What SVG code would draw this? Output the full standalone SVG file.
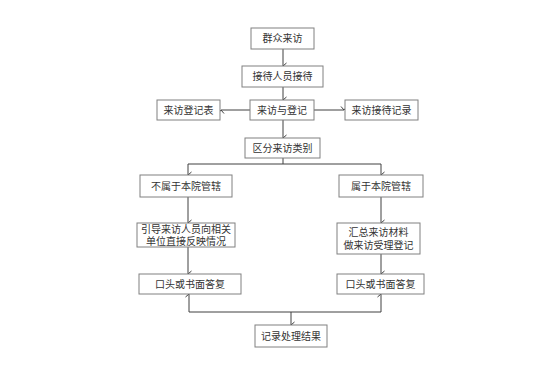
<svg xmlns="http://www.w3.org/2000/svg" width="552" height="376" viewBox="0 0 552 376">
<style>
.box{fill:#fff;stroke:#808080;stroke-width:1}
.t{font-family:"Noto Sans CJK SC","Noto Sans",sans-serif;font-size:10px;fill:#333;text-anchor:middle}
.ln{fill:none;stroke:#404040;stroke-width:1}
</style>
<defs>
<marker id="a" markerWidth="8" markerHeight="8" refX="4" refY="6" orient="auto-start-reverse" markerUnits="userSpaceOnUse" viewBox="0 0 8 8">
<path d="M1,2.5 L4,6 L7,2.5" fill="none" stroke="#404040" stroke-width="1"/>
</marker>
</defs>
<rect width="552" height="376" fill="#fff"/>
<g id="connectors">
<line class="ln" x1="283" y1="49" x2="283" y2="66" marker-end="url(#a)"/>
<line class="ln" x1="283" y1="87" x2="283" y2="100" marker-end="url(#a)"/>
<line class="ln" x1="250" y1="110" x2="221" y2="110" marker-end="url(#a)"/>
<line class="ln" x1="314" y1="110" x2="344" y2="110" marker-end="url(#a)"/>
<line class="ln" x1="283" y1="120" x2="283" y2="138" marker-end="url(#a)"/>
<line class="ln" x1="283" y1="158" x2="283" y2="164"/>
<polyline class="ln" points="188,175 188,164 381,164 381,175" marker-start="url(#a)" marker-end="url(#a)"/>
<line class="ln" x1="188" y1="197" x2="188" y2="223" marker-end="url(#a)"/>
<line class="ln" x1="381" y1="197" x2="381" y2="223" marker-end="url(#a)"/>
<line class="ln" x1="188" y1="247" x2="188" y2="274" marker-end="url(#a)"/>
<line class="ln" x1="381" y1="254" x2="381" y2="274" marker-end="url(#a)"/>
<polyline class="ln" points="189,294 189,312 381,312 381,294" marker-start="url(#a)" marker-end="url(#a)"/>
<line class="ln" x1="291" y1="312" x2="291" y2="325" marker-end="url(#a)"/>
</g>
<g id="n1"><rect class="box" x="251" y="28" width="63" height="21"/><text class="t" x="282.5" y="42">群众来访</text></g>
<g id="n2"><rect class="box" x="242" y="66" width="81" height="21"/><text class="t" x="282.5" y="80">接待人员接待</text></g>
<g id="n3"><rect class="box" x="250" y="100" width="64" height="20"/><text class="t" x="282" y="114">来访与登记</text></g>
<g id="n4"><rect class="box" x="157" y="100" width="63" height="20"/><text class="t" x="188.5" y="114">来访登记表</text></g>
<g id="n5"><rect class="box" x="345" y="100" width="73" height="20"/><text class="t" x="381.5" y="114">来访接待记录</text></g>
<g id="n6"><rect class="box" x="245" y="138" width="75" height="20"/><text class="t" x="282.5" y="152">区分来访类别</text></g>
<g id="n7"><rect class="box" x="140" y="175" width="92" height="22"/><text class="t" x="186" y="190">不属于本院管辖</text></g>
<g id="n8"><rect class="box" x="339" y="175" width="84" height="22"/><text class="t" x="381" y="190">属于本院管辖</text></g>
<g id="n9"><rect class="box" x="137" y="223" width="98" height="24"/><text class="t" x="186" y="233">引导来访人员向相关</text><text class="t" x="186" y="245">单位直接反映情况</text></g>
<g id="n10"><rect class="box" x="337" y="223" width="83" height="31"/><text class="t" x="378.5" y="236">汇总来访材料</text><text class="t" x="378.5" y="249">做来访受理登记</text></g>
<g id="n11"><rect class="box" x="139" y="274" width="102" height="20"/><text class="t" x="190" y="288">口头或书面答复</text></g>
<g id="n12"><rect class="box" x="337" y="274" width="87" height="20"/><text class="t" x="380.5" y="288">口头或书面答复</text></g>
<g id="n13"><rect class="box" x="255" y="325" width="72" height="22"/><text class="t" x="291" y="340">记录处理结果</text></g>
</svg>
